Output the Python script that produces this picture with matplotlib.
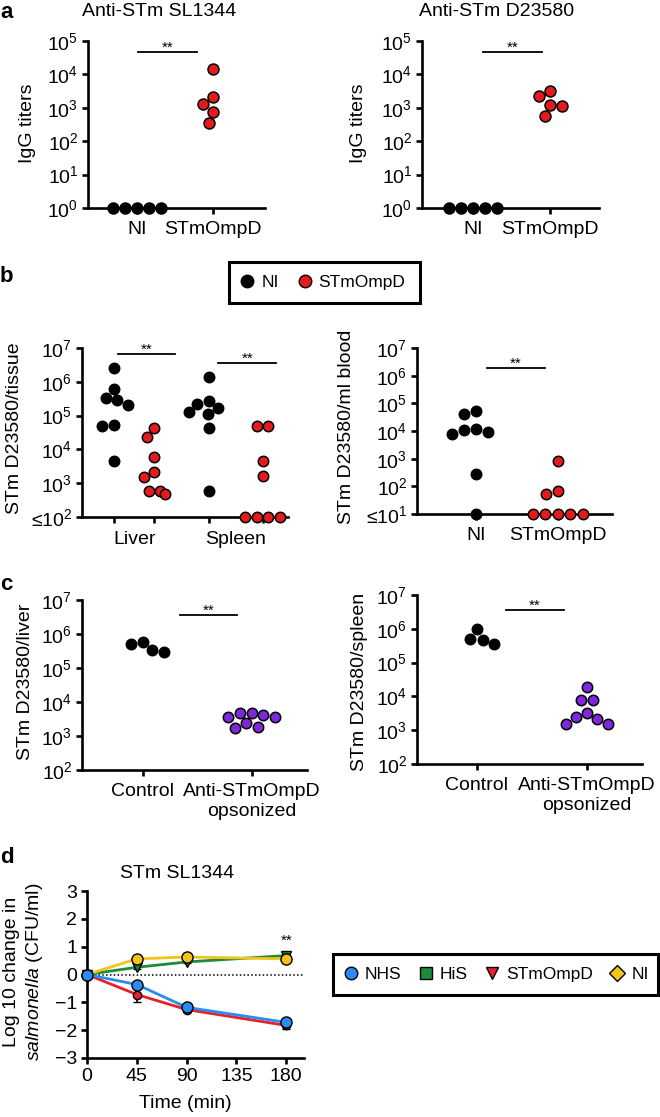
import numpy as np
import matplotlib
matplotlib.use('Agg')
import matplotlib.pyplot as plt
from matplotlib.lines import Line2D
from matplotlib.patches import Rectangle
from matplotlib.ticker import NullLocator

plt.rcParams['font.family'] = ['Liberation Sans', 'DejaVu Sans']
plt.rcParams['mathtext.fontset'] = 'custom'
plt.rcParams['mathtext.rm'] = 'Liberation Sans'
plt.rcParams['mathtext.it'] = 'Liberation Sans:italic'
plt.rcParams['mathtext.bf'] = 'Liberation Sans:bold'

W, H = 660, 1117

# ---------------- data ----------------
groups_a = ['NI', 'STmOmpD']
igg_sl1344_ni = [1, 1, 1, 1, 1]
igg_sl1344_stm = [15000, 2100, 1300, 750, 350]
igg_d23580_ni = [1, 1, 1, 1, 1]
igg_d23580_stm = [3200, 2250, 1200, 1130, 570]

tissues = ['Liver', 'Spleen']
liver_ni = [2.5e6, 6e5, 3.4e5, 2.8e5, 2.0e5, 5.3e4, 4.9e4, 4400]
liver_stm = [4.4e4, 2.4e4, 6000, 2200, 1550, 600, 480, 600]
spleen_ni = [1.35e6, 2.7e5, 2.2e5, 1.7e5, 1.3e5, 1.1e5, 4.4e4, 590]
spleen_stm = [5e4, 5e4, 4600, 1600, 100, 100, 100, 100]
blood_ni = [5.2e4, 4e4, 1.15e4, 1.07e4, 9400, 7700, 275, 10]
blood_stm = [820, 68, 52, 10, 10, 10, 10, 10]

groups_c = ['Control', 'Anti-STmOmpD\nopsonized']
liver_ctrl = [5.7e5, 5e5, 3.4e5, 3e5]
liver_ops = [4900, 4600, 4200, 3700, 3550, 2350, 1800, 1700]
spleen_ctrl = [9.7e5, 5e5, 4.7e5, 3.5e5]
spleen_ops = [1.87e4, 7600, 7600, 3200, 2500, 2150, 1540, 1540]

time_min = [0, 45, 90, 180]
kill_names = ['NHS', 'HiS', 'STmOmpD', 'NI']
nhs_mean = [0, -0.36, -1.18, -1.72]
nhs_err = [0, 0.06, 0.06, 0.08]
his_mean = [0, 0.26, 0.45, 0.68]
his_err = [0, 0.05, 0.05, 0.05]
stm_mean = [0, -0.72, -1.26, -1.83]
stm_err = [0, 0.27, 0.08, 0.12]
ni_mean = [0, 0.56, 0.63, 0.56]
ni_err = [0, 0.08, 0.05, 0.08]

RED = '#e41a1c'
PURPLE = '#7d28dc'
FS = 14

fig = plt.figure(figsize=(W / 100, H / 100), dpi=100)


def px_rect(x0, y0, x1, y1):
    return [x0 / W, 1 - y1 / H, (x1 - x0) / W, (y1 - y0) / H]


def ftext(x, y, s, **kw):
    kw.setdefault('fontsize', FS)
    kw.setdefault('ha', 'center')
    kw.setdefault('va', 'center')
    fig.text(x / W, 1 - y / H, s, **kw)


def style(ax):
    for side in ['top', 'right']:
        ax.spines[side].set_visible(False)
    for side in ['left', 'bottom']:
        ax.spines[side].set_linewidth(1.9)
    ax.tick_params(width=1.9, length=4.5, labelsize=FS, pad=2.5)
    ax.yaxis.set_minor_locator(NullLocator())


def log_ticks(ax, lo, hi, le_first=False):
    exps = list(range(lo, hi + 1))
    labels = ['$10^{%d}$' % e for e in exps]
    if le_first:
        labels[0] = '≤' + labels[0]
    ax.set_yticks([10.0 ** e for e in exps], labels)
    ax.set_ylim(10.0 ** lo, 10.0 ** hi)
    ax.yaxis.set_minor_locator(NullLocator())


def swarm(ax, xc, vals, gap=12.0):
    # simple beeswarm in pixel space
    vals = np.asarray(vals, dtype=float)
    pts = ax.transData.transform(np.column_stack([np.full(len(vals), xc), vals]))
    ys = pts[:, 1]
    ref = ax.transData.transform([(0, 1), (1, 1)])
    unit = ref[1, 0] - ref[0, 0]
    off = np.zeros(len(vals))
    placed = []
    for i in np.argsort(-ys, kind='stable'):
        y = ys[i]
        cands = [0.0]
        for dx, yy in placed:
            dy = abs(y - yy)
            if dy < gap:
                h = np.sqrt(gap ** 2 - dy ** 2)
                cands += [dx - h, dx + h]
        cands.sort(key=lambda c: (abs(c), c))
        for c in cands:
            if all((c - dx) ** 2 + (y - yy) ** 2 >= gap ** 2 - 1e-6 for dx, yy in placed):
                off[i] = c
                placed.append((c, y))
                break
    for v in np.unique(ys):
        idx = np.where(ys == v)[0]
        if len(idx) > 1:
            off[idx] -= off[idx].mean()
    return xc + off / unit


def dots(ax, xc, vals, color, size=62, gap=12.0):
    xs = swarm(ax, xc, vals, gap)
    ax.scatter(xs, vals, s=size, c=color, edgecolors='black', linewidths=1.1,
               zorder=3, clip_on=False)


def sig(ax, x0, x1, y):
    ax.plot([x0, x1], [y, y], color='black', lw=1.3, clip_on=False)
    ax.text((x0 + x1) / 2, y, '**', ha='center', va='baseline', fontsize=11)


# ---------------- panel a ----------------
for rect, xl, ni, stm, title, tx, bar in [
        ((88, 41, 265, 208), (-0.645, 1.68), igg_sl1344_ni, igg_sl1344_stm,
         'Anti-STm SL1344', 159, (0.01, 0.79)),
        ((422, 41, 599, 208), (-0.66, 1.64), igg_d23580_ni, igg_d23580_stm,
         'Anti-STm D23580', 497, (0.13, 0.90))]:
    ax = fig.add_axes(px_rect(*rect))
    style(ax)
    ax.set_yscale('log')
    log_ticks(ax, 0, 5)
    ax.set_xlim(*xl)
    ax.set_xticks([0, 1], groups_a)
    ax.tick_params(axis='x', pad=5)
    dots(ax, 0, ni, 'black')
    dots(ax, 1, stm, RED)
    sig(ax, bar[0], bar[1], 10 ** 4.67)
    ftext(tx, 12, title)
ftext(27, 123, 'IgG titers', rotation=90)
ftext(358, 123, 'IgG titers', rotation=90)

# ---------------- panel b ----------------
# legend box
fig.patches.append(Rectangle((229 / W, 1 - 303 / H), 191 / W, 41 / H,
                             transform=fig.transFigure, fill=False,
                             edgecolor='black', lw=2.2))
hb = [Line2D([], [], ls='none', marker='o', ms=9, mfc='black', mec='black', mew=1),
      Line2D([], [], ls='none', marker='o', ms=9, mfc=RED, mec='black', mew=1)]
fig.legend(hb, groups_a, loc='center', bbox_to_anchor=(322 / W, 1 - 282.5 / H),
           ncol=2, frameon=False, fontsize=12.5, handletextpad=0.3,
           columnspacing=1.0, handlelength=1.0)

pos_b = [0, 0.75, 1.75, 2.75]
ax = fig.add_axes(px_rect(82, 348, 288, 517))
style(ax)
ax.set_yscale('log')
log_ticks(ax, 2, 7, le_first=True)
ax.set_xlim(-0.59, 3.22)
ax.set_xticks(pos_b, [''] * 4)
dots(ax, pos_b[0], liver_ni, 'black', size=56, gap=11.5)
dots(ax, pos_b[1], liver_stm, RED, size=56, gap=11.5)
dots(ax, pos_b[2], spleen_ni, 'black', size=56, gap=11.5)
dots(ax, pos_b[3], spleen_stm, RED, size=56, gap=11.5)
sig(ax, 0.07, 1.13, 10 ** 6.82)
sig(ax, 1.93, 3.0, 10 ** 6.56)
for i, name in enumerate(tissues):
    ax.text((pos_b[2 * i] + pos_b[2 * i + 1]) / 2, -0.136, name, ha='center',
            va='center', fontsize=FS, transform=ax.get_xaxis_transform())
ftext(15, 428, 'STm D23580/tissue', rotation=90)

ax = fig.add_axes(px_rect(417, 348, 612, 514))
style(ax)
ax.set_yscale('log')
log_ticks(ax, 1, 7, le_first=True)
ax.set_xlim(-0.72, 1.66)
ax.set_xticks([0, 1], groups_a)
ax.tick_params(axis='x', pad=5)
dots(ax, 0, blood_ni, 'black', size=56, gap=12.5)
dots(ax, 1, blood_stm, RED, size=56, gap=12.5)
sig(ax, 0.13, 0.84, 10 ** 6.27)
ftext(346, 427, 'STm D23580/ml blood', rotation=90)

# ---------------- panel c ----------------
for rect, xl, ctrl, ops, bar, lab, lx in [
        ((82, 600, 307, 770), (-0.56, 1.51), liver_ctrl, liver_ops, (0.34, 0.87),
         'STm D23580/liver', 26),
        ((417, 595, 642, 764), (-0.545, 1.5), spleen_ctrl, spleen_ops, (0.26, 0.79),
         'STm D23580/spleen', 360)]:
    ax = fig.add_axes(px_rect(*rect))
    style(ax)
    ax.set_yscale('log')
    log_ticks(ax, 2, 7)
    ax.set_xlim(*xl)
    ax.set_xticks([0, 1], groups_c)
    ax.tick_params(axis='x', pad=5)
    dots(ax, 0, ctrl, 'black', size=56, gap=12)
    dots(ax, 1, ops, PURPLE, size=56, gap=12)
    sig(ax, bar[0], bar[1], 10 ** 6.56)
    ftext(lx, 682, lab, rotation=90)

# ---------------- panel d ----------------
ax = fig.add_axes(px_rect(87, 891, 304, 1058))
style(ax)
ax.set_xlim(0, 196)
ax.set_ylim(-3, 3)
ax.set_xticks([0, 45, 90, 135, 180])
ax.set_yticks([-3, -2, -1, 0, 1, 2, 3])
ax.axhline(0, color='black', lw=1.1, ls=(0, (1, 1.5)), zorder=1)
series = [
    (his_mean, his_err, '#1f8a3e', 'v', 7),
    (ni_mean, ni_err, '#f0c419', 'o', 8),
    (stm_mean, stm_err, '#e8202a', 'o', 6),
    (nhs_mean, nhs_err, '#2a8cf0', 'o', 8),
]
for mean, err, col, mk, ms in series:
    ax.errorbar(time_min, mean, yerr=err, color=col, lw=2, marker=mk, ms=ms,
                mfc=col, mec='black', mew=1, ecolor='black', elinewidth=1.2,
                capsize=3, clip_on=False, zorder=3)
ax.text(180, 1.07, '**', ha='center', va='baseline', fontsize=11)
ftext(177, 873, 'STm SL1344')
ftext(185, 1104, 'Time (min)')
ftext(24, 972, 'Log 10 change in\n$\\it{salmonella}$ (CFU/ml)', rotation=90,
      linespacing=1.3)

fig.patches.append(Rectangle((333 / W, 1 - 995 / H), 325 / W, 41 / H,
                             transform=fig.transFigure, fill=False,
                             edgecolor='black', lw=2.2))
hd = [Line2D([], [], ls='none', marker='o', ms=9, mfc='#2a8cf0', mec='black', mew=1),
      Line2D([], [], ls='none', marker='s', ms=8, mfc='#1f8a3e', mec='black', mew=1),
      Line2D([], [], ls='none', marker='v', ms=9, mfc='#e8202a', mec='black', mew=1),
      Line2D([], [], ls='none', marker='D', ms=8, mfc='#f0c419', mec='black', mew=1)]
fig.legend(hd, kill_names, loc='center', bbox_to_anchor=(495.5 / W, 1 - 974.5 / H),
           ncol=4, frameon=False, fontsize=12.5, handletextpad=0.3,
           columnspacing=0.9, handlelength=1.0)

# panel letters
for letter, y in [('a', 18), ('b', 282), ('c', 590), ('d', 863)]:
    ftext(0, y, letter, ha='left', va='baseline', fontsize=16, fontweight='bold')

fig.savefig('out.png', dpi=100)
